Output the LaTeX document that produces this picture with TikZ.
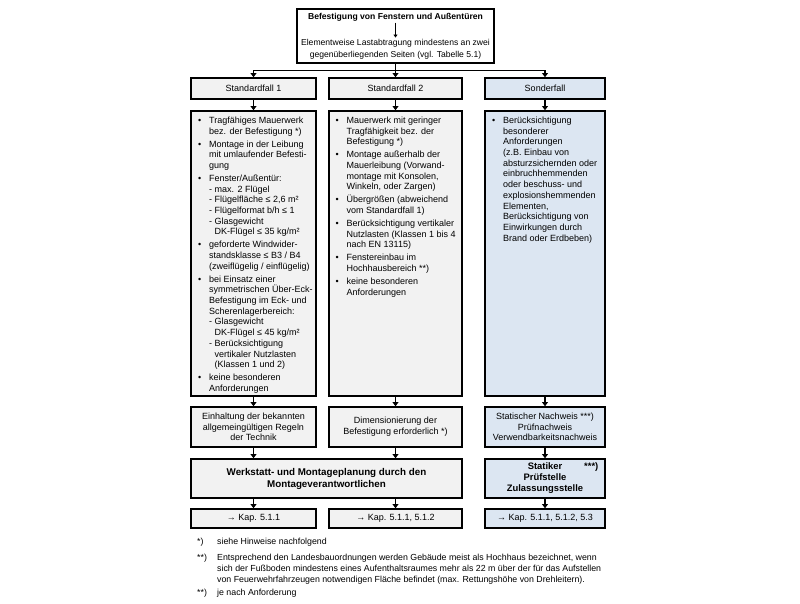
\documentclass[tikz,border=0pt]{standalone}
\usepackage{fontspec}
\setmainfont{Liberation Sans}
\usetikzlibrary{arrows.meta}
\definecolor{gfill}{HTML}{F2F2F2}
\definecolor{bfill}{HTML}{DCE6F2}
\newcommand\bodyfont{\fontsize{9bp}{10.7bp}\selectfont}
\newcommand\topfont{\fontsize{8.6bp}{12.5bp}\selectfont}
\newcommand\notefont{\fontsize{8.8bp}{11bp}\selectfont}
\newcommand\bul[1]{\par\hangindent=11bp\hangafter=1\noindent\makebox[11bp][l]{\textbullet}#1\parskip=2.2bp\relax}
\newcommand\listbox[1]{\parbox[t]{140bp}{\bodyfont\parskip=0pt#1\par}}
\newcommand\ind{\hspace*{5.5bp}}
\begin{document}
\begin{tikzpicture}[x=1bp,y=-1bp,
  box/.style={draw, line width=1.4bp, inner sep=0pt, font=\bodyfont, align=center},
  gbox/.style={box, fill=gfill},
  bbox/.style={box, fill=bfill},
  wbox/.style={box, fill=white},
  colL/.style={minimum width=125bp},
  colM/.style={minimum width=133bp},
  colR/.style={minimum width=120bp},
  arr/.style={line width=1.4bp, -{Triangle[length=4.2bp,width=5.8bp]}},
  line/.style={line width=1.4bp},
  txt/.style={inner sep=0pt, anchor=base west}]
\useasboundingbox (0,0) rectangle (800,604);

% top box
\node[wbox, minimum width=197bp, minimum height=54bp] (top) at (395.5,36) {};
\node[inner sep=1.5bp, font=\topfont\bfseries] (title) at (395.5,17) {Befestigung von Fenstern und Außentüren};
\node[inner sep=1.5bp, font=\topfont, align=center] (elem) at (395.5,49.5) {Elementweise Lastabtragung mindestens an zwei\\gegenüberliegenden Seiten (vgl. Tabelle 5.1)};
\draw[line width=0.9bp, -{Triangle[length=3bp,width=4bp]}] (title.south) -- (elem.north);

% headers
\node[gbox, colL, minimum height=21bp] (hL) at (253.5,88.5) {Standardfall 1};
\node[gbox, colM, minimum height=21bp] (hM) at (395.5,88.5) {Standardfall 2};
\node[bbox, colR, minimum height=21bp] (hR) at (545,88.5) {Sonderfall};

\coordinate (br) at (395.5,70.5);
\draw[line] (top.south) -- (br);
\draw[line] (hL.north |- br) -- (hR.north |- br);
\draw[arr] (hL.north |- br) -- (hL.north);
\draw[arr] (br) -- (hM.north);
\draw[arr] (hR.north |- br) -- (hR.north);

% content boxes
\node[gbox, colL, minimum height=285bp] (cL) at (253.5,253.5) {};
\node[gbox, colM, minimum height=285bp] (cM) at (395.5,253.5) {};
\node[bbox, colR, minimum height=285bp] (cR) at (545,253.5) {};
\draw[arr] (hL) -- (cL);
\draw[arr] (hM) -- (cM);
\draw[arr] (hR) -- (cR);

\node[txt] (lL) at (198,123.5) {\listbox{%
\bul{Tragfähiges Mauerwerk\\bez. der Befestigung *)}%
\bul{Montage in der Leibung\\mit umlaufender Befesti-\\gung}%
\bul{Fenster/Außentür:\\- max. 2 Flügel\\- Flügelfläche ≤ 2,6 m²\\- Flügelformat b/h ≤ 1\\- Glasgewicht\\\ind DK-Flügel ≤ 35 kg/m²}%
\bul{geforderte Windwider-\\standsklasse ≤ B3 / B4\\(zweiflügelig / einflügelig)}%
\bul{bei Einsatz einer\\symmetrischen Über-Eck-\\Befestigung im Eck- und\\Scherenlagerbereich:\\- Glasgewicht\\\ind DK-Flügel ≤ 45 kg/m²\\- Berücksichtigung\\\ind vertikaler Nutzlasten\\\ind (Klassen 1 und 2)}%
\bul{keine besonderen\\Anforderungen}}};

\node[txt] (lM) at (335.5,123.5) {\listbox{%
\bul{Mauerwerk mit geringer\\Tragfähigkeit bez. der\\Befestigung *)}%
\bul{Montage außerhalb der\\Mauerleibung (Vorwand-\\montage mit Konsolen,\\Winkeln, oder Zargen)}%
\bul{Übergrößen (abweichend\\vom Standardfall 1)}%
\bul{Berücksichtigung vertikaler\\Nutzlasten (Klassen 1 bis 4\\nach EN 13115)}%
\bul{Fenstereinbau im\\Hochhausbereich **)}%
\bul{keine besonderen\\Anforderungen}}};

\node[txt] (lR) at (492,123.5) {\listbox{%
\bul{Berücksichtigung\\besonderer\\Anforderungen\\(z.B. Einbau von\\absturzsichernden oder\\einbruchhemmenden\\oder beschuss- und\\explosionshemmenden\\Elementen,\\Berücksichtigung von\\Einwirkungen durch\\Brand oder Erdbeben)}}};

% third row
\node[gbox, colL, minimum height=40bp] (tL) at (253.5,427) {Einhaltung der bekannten\\allgemeingültigen Regeln\\der Technik};
\node[gbox, colM, minimum height=40bp] (tM) at (395.5,427) {Dimensionierung der\\Befestigung erforderlich *)};
\node[bbox, colR, minimum height=40bp] (tR) at (545,427) {Statischer Nachweis ***)\\Prüfnachweis\\Verwendbarkeitsnachweis};
\draw[arr] (cL) -- (tL);
\draw[arr] (cM) -- (tM);
\draw[arr] (cR) -- (tR);

% fourth row
\node[gbox, minimum width=271bp, minimum height=39bp, font=\fontsize{9.8bp}{12bp}\selectfont\bfseries] (wk) at (326.5,478.5) {Werkstatt- und Montageplanung durch den\\Montageverantwortlichen};
\node[bbox, colR, minimum height=39bp, font=\fontsize{9.4bp}{11bp}\selectfont\bfseries] (st) at (545,478.5) {Statiker\rlap{\hspace{22bp}***)}\\Prüfstelle\\Zulassungsstelle};
\draw[arr] (tL.south) -- (tL.south |- wk.north);
\draw[arr] (tM.south) -- (tM.south |- wk.north);
\draw[arr] (tR) -- (st);

% Kap row
\node[gbox, colL, minimum height=19bp] (kL) at (253.5,518.5) {→ Kap. 5.1.1};
\node[gbox, colM, minimum height=19bp] (kM) at (395.5,518.5) {→ Kap. 5.1.1, 5.1.2};
\node[bbox, colR, minimum height=19bp] (kR) at (545,518.5) {→ Kap. 5.1.1, 5.1.2, 5.3};
\draw[arr] (kL.north |- wk.south) -- (kL.north);
\draw[arr] (kM.north |- wk.south) -- (kM.north);
\draw[arr] (st) -- (kR);

% footnotes
\node[txt, font=\notefont] (f1m) at (197,544) {*)};
\node[txt, font=\notefont] (f1t) at (217,544) {siehe Hinweise nachfolgend};
\node[txt, font=\notefont] (f2m) at (197,560) {**)};
\node[txt] (f2t) at (217,560) {\parbox[t]{430bp}{\notefont\raggedright Entsprechend den Landesbauordnungen werden Gebäude meist als Hochhaus bezeichnet, wenn\\sich der Fußboden mindestens eines Aufenthaltsraumes mehr als 22 m über der für das Aufstellen\\von Feuerwehrfahrzeugen notwendigen Fläche befindet (max. Rettungshöhe von Drehleitern).}};
\node[txt, font=\notefont] (f3m) at (197,595) {**)};
\node[txt, font=\notefont] (f3t) at (217,595) {je nach Anforderung};
\end{tikzpicture}
\end{document}
